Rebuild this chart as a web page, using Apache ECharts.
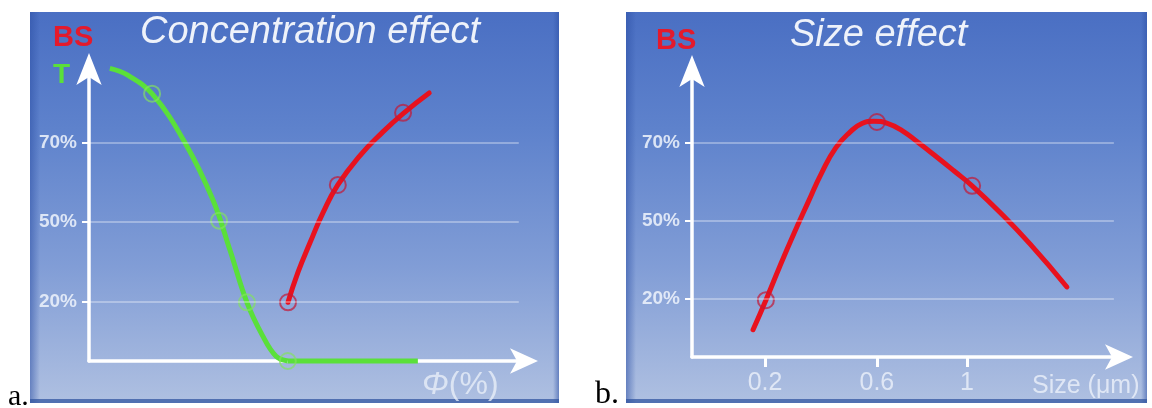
<!DOCTYPE html>
<html><head><meta charset="utf-8">
<script src="https://cdn.jsdelivr.net/npm/echarts@6/dist/echarts.min.js"></script>
<style>html,body{margin:0;padding:0;background:#fff}#c{width:1152px;height:408px}</style>
</head><body><div id="c"></div>
<script>
// ---------- data ----------
// Both y axes are drawn in evenly spaced "levels"; the tick labels below name them.
const yTickLevels = [1, 2, 3];
const yTickLabels = ['20%', '50%', '70%'];
// Size axis ticks (axis runs 0..100 along its length)
const sizeTickLevels = [17.1, 43.3, 64.4];
const sizeTickLabels = ['0.2', '0.6', '1'];

// a. Concentration effect (x: Φ axis 0..100)
const concT = [[4.8,3.94],[8.7,3.86],[14.5,3.62],[22.1,3.0],[28.5,2.28],[32.4,1.65],[36.3,0.99],[39.8,0.58],[43.0,0.31],[45.7,0.25]];
const concTFlat = [[45.7,0.25],[75.6,0.25]];
const concTCircles = [[14.5,3.62],[29.9,2.02],[36.3,0.99],[45.7,0.25]];
const concBS = [[45.75,0.99],[48.05,1.37],[50.8,1.74],[53.8,2.12],[57.2,2.47],[62.3,2.84],[67.4,3.13],[72.2,3.37],[78.2,3.63]];
const concBSCircles = [[45.75,0.99],[57.2,2.47],[72.2,3.38]];

// b. Size effect
const sizeBS = [[14.3,0.60],[17.3,0.98],[20.6,1.42],[23.9,1.84],[27.2,2.24],[30.4,2.62],[33.7,2.94],[37.0,3.14],[39.8,3.25],[42.6,3.28],[45.9,3.25],[49.2,3.16],[52.9,3.01],[57.1,2.83],[61.4,2.64],[65.6,2.45],[72.1,2.11],[79.2,1.70],[87.8,1.15]];
const sizeBSCircles = [[17.3,0.98],[43.3,3.27],[65.6,2.45]];

// ---------- styling ----------
const RED = '#e8121e', GREEN = '#5ae03a';
const LABEL = 'rgba(236,241,250,0.88)';
const FONT = '"Liberation Sans", Arial, sans-serif';

function bgGrad() {
  return new echarts.graphic.LinearGradient(0, 0, 0, 1, [
    {offset: 0, color: '#4a6fc3'},
    {offset: 0.3, color: '#5e82cc'},
    {offset: 0.65, color: '#819dd6'},
    {offset: 1, color: '#afc0e1'}
  ]);
}
function edgeGrad(leftSide) {
  return new echarts.graphic.LinearGradient(leftSide ? 0 : 1, 0, leftSide ? 1 : 0, 0, [
    {offset: 0, color: 'rgba(45,80,165,0.55)'},
    {offset: 1, color: 'rgba(45,80,165,0)'}
  ]);
}
function panel(x, w) {
  return [
    {type: 'rect', z: -100, silent: true, shape: {x: x, y: 12, width: w, height: 391}, style: {fill: bgGrad()}},
    {type: 'rect', z: -99, silent: true, shape: {x: x, y: 12, width: 10, height: 391}, style: {fill: edgeGrad(true)}},
    {type: 'rect', z: -99, silent: true, shape: {x: x + w - 6, y: 12, width: 6, height: 391}, style: {fill: edgeGrad(false)}},
    {type: 'rect', z: -99, silent: true, shape: {x: x, y: 399, width: w, height: 4}, style: {fill: 'rgba(50,85,160,0.75)'}}
  ];
}
function txt(x, y, text, opts) {
  return {type: 'text', z: 100, silent: true, x: x, y: y,
    style: Object.assign({text: text, fontFamily: FONT, textVerticalAlign: 'middle'}, opts)};
}
function gridMarkLines() {
  return {
    silent: true, symbol: ['none', 'none'], label: {show: false},
    lineStyle: {color: 'rgba(255,255,255,0.32)', width: 2, type: 'solid'},
    emphasis: {disabled: true},
    data: yTickLevels.map(v => [{coord: [0, v]}, {coord: [98.8, v]}])
  };
}
function yAxisOpt(gi, symOff) {
  return {
    gridIndex: gi, type: 'value', min: 0.25, max: 4,
    axisLine: {show: true, onZero: false, lineStyle: {color: '#fff', width: 3.5},
      symbol: ['none', 'arrow'], symbolSize: [19, 32], symbolOffset: [0, symOff]},
    axisTick: {show: true, customValues: yTickLevels, length: 7, lineStyle: {color: '#fff', width: 2}},
    axisLabel: {show: true, customValues: yTickLevels, margin: 12,
      formatter: v => yTickLabels[yTickLevels.indexOf(v)] || '',
      color: LABEL, fontSize: 19, fontWeight: 'bold', fontFamily: FONT},
    splitLine: {show: false}
  };
}

const chart = echarts.init(document.getElementById('c'), null, {renderer: 'canvas'});
chart.setOption({
  animation: false,
  backgroundColor: '#ffffff',
  textStyle: {fontFamily: FONT},
  grid: [
    {left: 89, top: 63.6, width: 435, height: 297.4},
    {left: 692, top: 65.2, width: 427, height: 291.8}
  ],
  xAxis: [
    {gridIndex: 0, type: 'value', min: 0, max: 100,
      axisLine: {show: true, onZero: false, lineStyle: {color: '#fff', width: 3.5},
        symbol: ['none', 'arrow'], symbolSize: [19, 28], symbolOffset: [0, 14]},
      axisTick: {show: false}, axisLabel: {show: false}, splitLine: {show: false}},
    {gridIndex: 1, type: 'value', min: 0, max: 100,
      axisLine: {show: true, onZero: false, lineStyle: {color: '#fff', width: 3.5},
        symbol: ['none', 'arrow'], symbolSize: [19, 28], symbolOffset: [0, 14]},
      axisTick: {show: true, customValues: sizeTickLevels, length: 10, lineStyle: {color: '#fff', width: 3}},
      axisLabel: {show: true, customValues: sizeTickLevels, margin: 14,
        formatter: v => sizeTickLabels[sizeTickLevels.indexOf(v)] || '',
        color: 'rgba(236,241,250,0.8)', fontSize: 25, fontFamily: FONT},
      splitLine: {show: false}}
  ],
  yAxis: [yAxisOpt(0, 10.6), yAxisOpt(1, 10.2)],
  series: [
    {type: 'line', xAxisIndex: 0, yAxisIndex: 0, z: 2, data: yTickLevels.map(v => [0, v]),
      showSymbol: false, lineStyle: {opacity: 0}, silent: true, markLine: gridMarkLines()},
    {type: 'line', xAxisIndex: 0, yAxisIndex: 0, z: 3, data: concT, smooth: 0.4, clip: false,
      showSymbol: false, lineStyle: {color: GREEN, width: 5}},
    {type: 'line', xAxisIndex: 0, yAxisIndex: 0, z: 3, data: concTFlat, clip: false,
      showSymbol: false, lineStyle: {color: GREEN, width: 5}},
    {type: 'line', xAxisIndex: 0, yAxisIndex: 0, z: 3, data: concBS, smooth: 0.5, clip: false,
      showSymbol: false, lineStyle: {color: RED, width: 5, cap: 'round'}},
    {type: 'scatter', xAxisIndex: 0, yAxisIndex: 0, z: 4, data: concTCircles, symbol: 'circle', symbolSize: 16, clip: false,
      itemStyle: {color: 'rgba(0,0,0,0)', borderColor: 'rgba(130,225,95,0.85)', borderWidth: 2}},
    {type: 'scatter', xAxisIndex: 0, yAxisIndex: 0, z: 4, data: concBSCircles, symbol: 'circle', symbolSize: 16, clip: false,
      itemStyle: {color: 'rgba(0,0,0,0)', borderColor: 'rgba(195,25,55,0.9)', borderWidth: 2}},

    {type: 'line', xAxisIndex: 1, yAxisIndex: 1, z: 2, data: yTickLevels.map(v => [0, v]),
      showSymbol: false, lineStyle: {opacity: 0}, silent: true, markLine: gridMarkLines()},
    {type: 'line', xAxisIndex: 1, yAxisIndex: 1, z: 3, data: sizeBS, smooth: 0.5, clip: false,
      showSymbol: false, lineStyle: {color: RED, width: 5, cap: 'round'}},
    {type: 'scatter', xAxisIndex: 1, yAxisIndex: 1, z: 4, data: sizeBSCircles, symbol: 'circle', symbolSize: 16, clip: false,
      itemStyle: {color: 'rgba(0,0,0,0)', borderColor: 'rgba(195,25,55,0.9)', borderWidth: 2}}
  ],
  graphic: {elements: [].concat(
    panel(30, 529), panel(626, 521),
    [
      txt(140, 32, 'Concentration effect', {fontSize: 38, fontStyle: 'italic', fill: '#eef2fa'}),
      txt(790, 35, 'Size effect', {fontSize: 38, fontStyle: 'italic', fill: '#eef2fa'}),
      txt(53, 38, 'BS', {fontSize: 29, fontWeight: 'bold', fill: '#e41a2c'}),
      txt(53, 75, 'T', {fontSize: 28, fontWeight: 'bold', fill: GREEN}),
      txt(656, 41, 'BS', {fontSize: 29, fontWeight: 'bold', fill: '#e41a2c'}),
      txt(422, 385, '{p|Φ}{q|(%)}', {fill: 'rgba(236,241,250,0.75)', rich: {
        p: {fontSize: 32, fontStyle: 'italic', fontFamily: FONT, fill: 'rgba(236,241,250,0.75)'},
        q: {fontSize: 32, fontFamily: FONT, fill: 'rgba(236,241,250,0.75)'}}}),
      txt(1032, 386, 'Size (μm)', {fontSize: 25, fill: 'rgba(236,241,250,0.8)'}),
      txt(8, 397, 'a.', {fontSize: 30, fontFamily: '"Liberation Serif", "Times New Roman", serif', fill: '#000'}),
      txt(595, 395, 'b.', {fontSize: 32, fontFamily: '"Liberation Serif", "Times New Roman", serif', fill: '#000'})
    ]
  )}
});
</script></body></html>
